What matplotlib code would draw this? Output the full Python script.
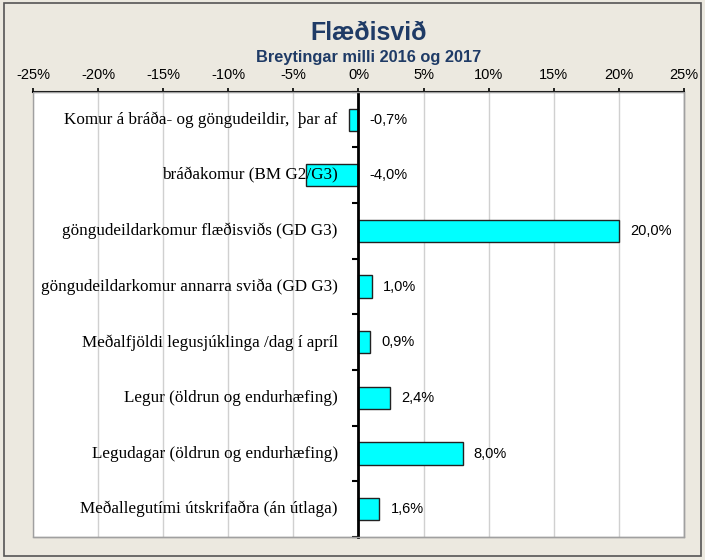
import numpy as np
import matplotlib
matplotlib.use("Agg")
import matplotlib.pyplot as plt
from matplotlib.patches import Rectangle

# data
categories = [
    "Komur á bráða- og göngudeildir,  þar af",
    "bráðakomur (BM G2/G3)",
    "göngudeildarkomur flæðisviðs (GD G3)",
    "göngudeildarkomur annarra sviða (GD G3)",
    "Meðalfjöldi legusjúklinga /dag í apríl",
    "Legur (öldrun og endurhæfing)",
    "Legudagar (öldrun og endurhæfing)",
    "Meðallegutími útskrifaðra (án útlaga)",
]
values = [-0.7, -4.0, 20.0, 1.0, 0.9, 2.4, 8.0, 1.6]
xticks = [-25, -20, -15, -10, -5, 0, 5, 10, 15, 20, 25]

bg = "#ECE9E0"
navy = "#1F3B66"

fig = plt.figure(figsize=(7.05, 5.6), dpi=100, facecolor=bg)
ax = fig.add_axes([0.047, 0.041, 0.923, 0.795])
ax.set_facecolor("white")

y = np.arange(len(categories))
ax.barh(y, values, height=0.4, color="#00FFFF", edgecolor="#222222", linewidth=1, zorder=3)

ax.set_xlim(-25, 25)
ax.set_ylim(len(categories) - 0.5, -0.5)

ax.xaxis.tick_top()
ax.set_xticks(xticks)
ax.set_xticklabels([f"{t}%" for t in xticks], fontsize=10.5, family="Liberation Sans")
ax.tick_params(axis="x", direction="out", length=3, width=1.2, pad=4, color="black")
ax.grid(axis="x", color="#D0D0D0", linewidth=1, zorder=0)

# y axis at zero with ticks at category boundaries
ax.spines["left"].set_position(("data", 0))
ax.spines["left"].set_linewidth(2)
ax.spines["left"].set_zorder(4)
ax.set_yticks(np.arange(-0.5, len(categories) + 0.5, 1))
ax.set_yticklabels([])
ax.tick_params(axis="y", direction="out", length=4, width=1.5)

ax.spines["top"].set_linewidth(1.5)
for s in ["right", "bottom"]:
    ax.spines[s].set_color("#A0A0A0")
    ax.spines[s].set_linewidth(1)
ax.add_patch(Rectangle((0, 0), 1, 1, transform=ax.transAxes, fill=False,
                       edgecolor="#A0A0A0", linewidth=1, zorder=5, clip_on=False))

for i, (c, v) in enumerate(zip(categories, values)):
    ax.text(-1.6, i, c, ha="right", va="center", fontsize=12.3,
            family="Liberation Serif", zorder=6)
    ax.text(max(v, 0) + 0.85, i, f"{v:.1f}%".replace(".", ","), ha="left",
            va="center", fontsize=10.5, family="Liberation Sans", zorder=6)

fig.text(0.523, 0.941, "Flæðisvið", ha="center", va="center", fontsize=18,
         fontweight="bold", color=navy, family="Liberation Sans")
fig.text(0.523, 0.897, "Breytingar milli 2016 og 2017", ha="center", va="center",
         fontsize=11.8, fontweight="bold", color=navy, family="Liberation Sans")

fig.add_artist(Rectangle((0.006, 0.008), 0.988, 0.986, transform=fig.transFigure,
                         fill=False, edgecolor="#555555", linewidth=1.2))

fig.savefig("out.png", dpi=100, facecolor=bg)
